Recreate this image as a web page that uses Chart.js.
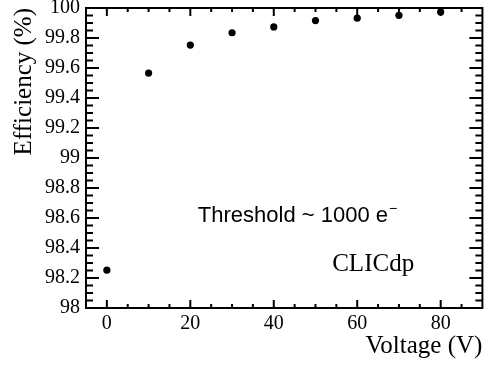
<!DOCTYPE html>
<html>
<head>
<meta charset="utf-8">
<script src="https://cdn.jsdelivr.net/npm/chart.js@4.4.0/dist/chart.umd.min.js"></script>
<style>
  body { margin: 0; background: #fff; }
  canvas { display: block; }
</style>
</head>
<body>
<canvas id="effChart" width="486" height="365"></canvas>
<script>
// data
const voltage = [0, 10, 20, 30, 40, 50, 60, 70, 80];
const efficiency = [98.252, 99.566, 99.753, 99.835, 99.874, 99.916, 99.932, 99.951, 99.974];
const xTicks = [0, 20, 40, 60, 80];
const yTicks = [98, 98.2, 98.4, 98.6, 98.8, 99, 99.2, 99.4, 99.6, 99.8, 100];

const serif = "'Liberation Serif', 'Times New Roman', serif";
const sans = "'Liberation Sans', Arial, sans-serif";

// ROOT style box: inward ticks on all 4 sides, plus the text labels
const framePlugin = {
  id: 'frame',
  afterDatasetsDraw(chart) {
    const { ctx, chartArea: a, scales: { x, y } } = chart;
    ctx.save();
    ctx.strokeStyle = '#000';
    ctx.lineWidth = 2;
    ctx.beginPath();
    for (let v = 0; v < 90; v += 5) {
      const px = x.getPixelForValue(v);
      const len = v % 20 === 0 ? 8 : 4;
      ctx.moveTo(px, a.bottom); ctx.lineTo(px, a.bottom - len);
      ctx.moveTo(px, a.top); ctx.lineTo(px, a.top + len);
    }
    for (let i = 1; i < 40; i++) {
      const py = y.getPixelForValue(98 + i * 0.05);
      const len = i % 4 === 0 ? 13 : 7;
      ctx.moveTo(a.left, py); ctx.lineTo(a.left + len, py);
      ctx.moveTo(a.right, py); ctx.lineTo(a.right - len, py);
    }
    ctx.stroke();
    ctx.strokeRect(a.left, a.top, a.right - a.left, a.bottom - a.top);

    // annotations
    ctx.fillStyle = '#000';
    ctx.textBaseline = 'alphabetic';
    ctx.textAlign = 'left';
    ctx.font = '22px ' + sans;
    const tx = x.getPixelForValue(21.8);
    const ty = y.getPixelForValue(98.572);
    const label = 'Threshold ~ 1000 e';
    ctx.fillText(label, tx, ty);
    const w = ctx.measureText(label).width;
    ctx.font = '14px ' + sans;
    ctx.fillText('\u2212', tx + w + 1, ty - 9);

    ctx.font = '25px ' + serif;
    ctx.fillText('CLICdp', x.getPixelForValue(54), y.getPixelForValue(98.245));
    ctx.restore();
  }
};

const ctx = document.getElementById('effChart').getContext('2d');
const chart = new Chart(ctx, {
  type: 'scatter',
  data: {
    datasets: [{
      label: 'Efficiency',
      data: voltage.map((v, i) => ({ x: v, y: efficiency[i] })),
      backgroundColor: '#000',
      borderColor: '#000',
      pointRadius: 3.6,
      pointHoverRadius: 3.6,
      borderWidth: 0
    }]
  },
  options: {
    responsive: false,
    animation: false,
    devicePixelRatio: 1,
    layout: { padding: { top: 8, right: 2, left: 0, bottom: 0 } },
    plugins: {
      legend: { display: false },
      tooltip: { enabled: false }
    },
    scales: {
      x: {
        type: 'linear',
        min: -5,
        max: 90,
        grid: { display: false, drawTicks: false },
        border: { display: false },
        afterBuildTicks: (scale) => { scale.ticks = xTicks.map(v => ({ value: v })); },
        afterFit: (scale) => { scale.height = 57; scale.paddingLeft = 0; scale.paddingRight = 0; },
        ticks: {
          padding: 4,
          color: '#000',
          font: { family: serif, size: 20 },
          maxRotation: 0,
          callback: (v) => String(v)
        },
        title: {
          display: true,
          text: 'Voltage (V)',
          align: 'end',
          color: '#000',
          font: { family: serif, size: 25 },
          padding: { top: 0, bottom: 4 }
        }
      },
      y: {
        type: 'linear',
        min: 98,
        max: 100,
        grid: { display: false, drawTicks: false },
        border: { display: false },
        afterBuildTicks: (scale) => { scale.ticks = yTicks.map(v => ({ value: v })); },
        afterFit: (scale) => { scale.width = 86; scale.paddingTop = 0; scale.paddingBottom = 0; },
        ticks: {
          padding: 6,
          color: '#000',
          font: { family: serif, size: 20 },
          callback: (v) => String(Number(v.toFixed(1)))
        },
        title: {
          display: true,
          text: 'Efficiency (%)',
          align: 'end',
          color: '#000',
          font: { family: serif, size: 25 },
          padding: { top: 9, bottom: 0 }
        }
      }
    }
  },
  plugins: [framePlugin]
});
</script>
</body>
</html>
